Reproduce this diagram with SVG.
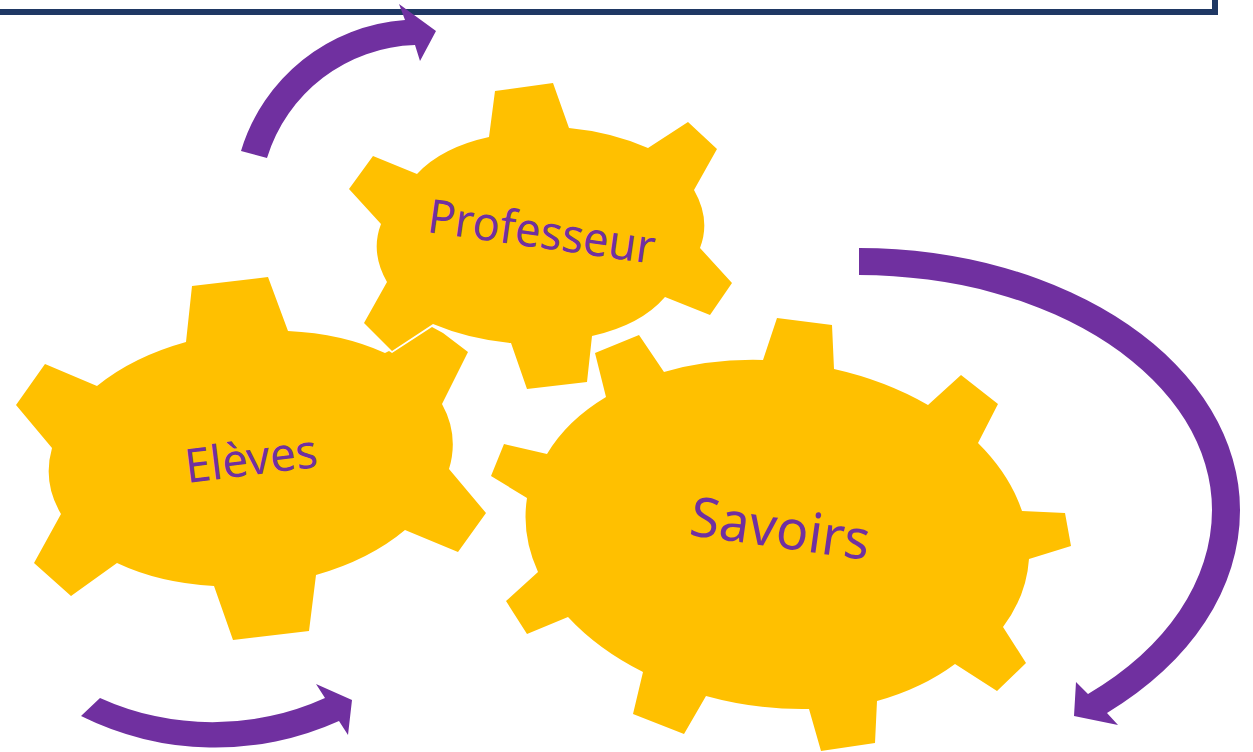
<svg xmlns="http://www.w3.org/2000/svg" width="1253" height="752" viewBox="0 0 1253 752">
<style>
.gear{fill:#FFC000}
.arrow{fill:#7030A0}
.label{fill:#7030A0;font-family:"Noto Sans","Open Sans","Liberation Sans",sans-serif}
</style>
<rect width="1253" height="752" fill="#fff"/>
<path d="M0 12H1215V0" fill="none" stroke="#1F3864" stroke-width="6"/>
<g id="node-eleves">
<path class="gear" d="M186 342L192 286L268 277L288 331A205 128 -5 0 1 385 353L389 351L392 353L432 327L443 333L468 352L442 404A205 128 -5 0 1 449 469L486 513L458 552L405 530A205 128 -5 0 1 316 575L309 631L233 640L214 586A205 128 -5 0 1 117 563L71 596L34 563L61 514A205 128 -5 0 1 52 448L16 405L45 364L97 386A205 128 -5 0 1 186 342Z"/>
<text class="label" transform="translate(187 483) rotate(-7)" font-size="47" textLength="133" lengthAdjust="spacingAndGlyphs">Elèves</text>
</g>
<g id="node-professeur">
<path class="gear" d="M489 137L495 91L553 83L569 128A165 100 8 0 1 648 148L688 122L717 149L694 190A165 100 8 0 1 700 248L732 283L710 315L665 297A165 100 8 0 1 592 336L587 382L527 389L511 343A165 100 8 0 1 433 324L392 351L364 323L387 282A165 100 8 0 1 381 224L349 189L373 156L417 174A165 100 8 0 1 489 137Z"/>
<text class="label" transform="translate(426 232) rotate(8)" font-size="47" textLength="229" lengthAdjust="spacingAndGlyphs">Professeur</text>
</g>
<g id="node-savoirs">
<path class="gear" d="M763 360L777 318L832 325L834 369A252 174 8 0 1 928 405L961 375L998 404L978 443A252 174 8 0 1 1022 511L1065 513L1071 546L1029 559A252 174 8 0 1 1003 627L1026 663L997 691L955 664A252 174 8 0 1 877 701L875 743L821 751L809 709A252 174 8 0 1 706 696L684 734L633 714L643 672A252 174 8 0 1 568 617L527 634L506 601L538 572A252 174 8 0 1 527 498L491 476L504 444L547 454A252 174 8 0 1 606 397L595 353L639 335L664 372A252 174 8 0 1 763 360Z"/>
<text class="label" transform="translate(688 535) rotate(8)" font-size="55" textLength="181" lengthAdjust="spacingAndGlyphs">Savoirs</text>
</g>
<g id="connectors">
<path class="arrow" d="M241 151A185 185 0 0 1 405 20L399 4L436 31L420 61L415 45A160 160 0 0 0 267 158Z"/>
<path class="arrow" d="M859 248A381 262 0 0 1 1240 510A381 267 0 0 1 1107 713L1118 725L1074 716L1076 682L1088 694A353 242 0 0 0 1212 510A353 235 0 0 0 859 275Z"/>
<path class="arrow" d="M81 716L100 698A273 273 0 0 0 325 698L316 684L352 700L348 735L339 721A301 301 0 0 1 81 716Z"/>
</g>
</svg>
